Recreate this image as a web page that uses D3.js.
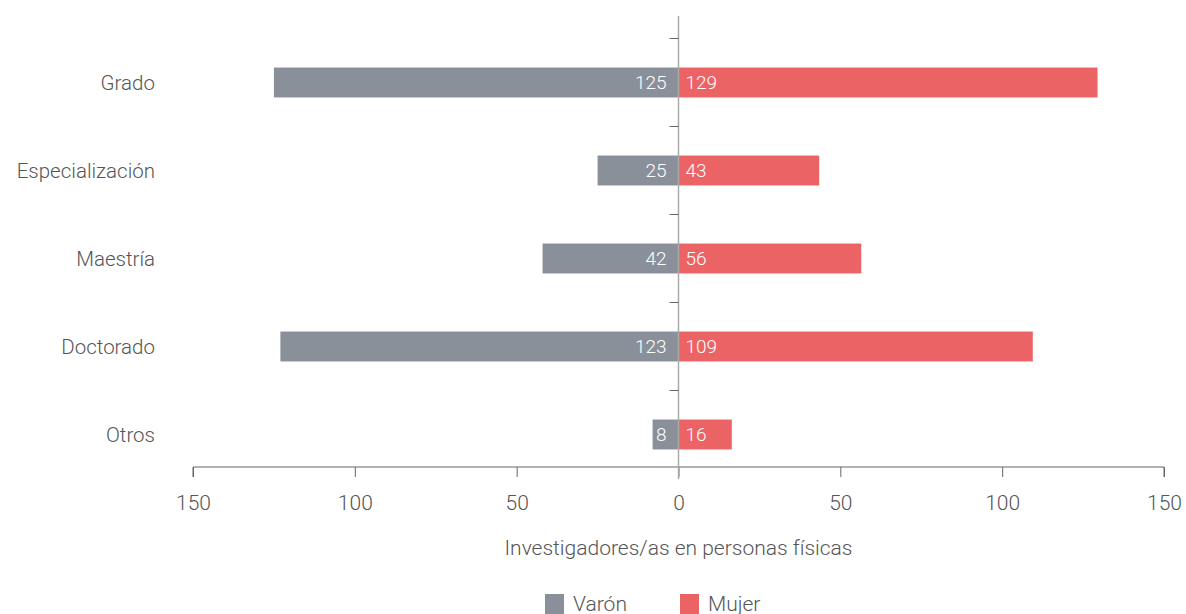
<!doctype html>
<html>
<head>
<meta charset="utf-8">
<title>Investigadores/as por titulación</title>
<script src="https://cdn.jsdelivr.net/npm/d3@7"></script>
<style>
  body { margin: 0; background: #fff; }
  text { font-family: Roboto, "DejaVu Sans", sans-serif; font-weight: 300; }
</style>
</head>
<body>
<div id="chart-area"></div>
<script>
// data
var categories = ["Grado", "Especialización", "Maestría", "Doctorado", "Otros"];
var varon = [125, 25, 42, 123, 8];
var mujer = [129, 43, 56, 109, 16];
var xTicks = [-150, -100, -50, 0, 50, 100, 150];
var seriesNames = ["Varón", "Mujer"];
var seriesColors = ["#89909a", "#eb6365"];

var width = 1186, height = 614;

var svg = d3.select("#chart-area").append("svg")
    .attr("width", width).attr("height", height);

var x = d3.scaleLinear().domain([-150, 150]).range([193, 1164]);
var y = d3.scaleBand().domain(categories).range([38.5, 478.5]).paddingInner(0.66).paddingOuter(0.33);

var rows = categories.map(function(c, i){ return { cat: c, v: varon[i], m: mujer[i] }; });

// bars
var g = svg.append("g");
g.selectAll("rect.varon").data(rows).enter().append("rect")
    .attr("class", "varon")
    .attr("x", function(d){ return x(-d.v); })
    .attr("y", function(d){ return y(d.cat); })
    .attr("width", function(d){ return x(0) - x(-d.v); })
    .attr("height", y.bandwidth())
    .attr("fill", seriesColors[0]);

g.selectAll("rect.mujer").data(rows).enter().append("rect")
    .attr("class", "mujer")
    .attr("x", x(0))
    .attr("y", function(d){ return y(d.cat); })
    .attr("width", function(d){ return x(d.m) - x(0) + 1.5; })
    .attr("height", y.bandwidth())
    .attr("fill", seriesColors[1]);

// value labels
g.selectAll("text.vl").data(rows).enter().append("text")
    .attr("x", x(0) - 12)
    .attr("y", function(d){ return y(d.cat) + y.bandwidth() / 2; })
    .attr("dy", "0.35em")
    .attr("text-anchor", "end")
    .attr("fill", "#fff")
    .style("font-size", "19px")
    .text(function(d){ return d.v; });

g.selectAll("text.ml").data(rows).enter().append("text")
    .attr("x", x(0) + 7)
    .attr("y", function(d){ return y(d.cat) + y.bandwidth() / 2; })
    .attr("dy", "0.35em")
    .attr("fill", "#fff")
    .style("font-size", "19px")
    .text(function(d){ return d.m; });

// x axis
var xAxis = svg.append("g").attr("transform", "translate(0,467)")
    .call(d3.axisBottom(x).tickValues(xTicks).tickSize(10).tickPadding(18)
        .tickFormat(function(d){ return Math.abs(d); }));
xAxis.select(".domain").attr("stroke", "#666").attr("d", "M193,10V0H1164V10");
xAxis.selectAll(".tick line").attr("stroke", "#666");
xAxis.selectAll(".tick text").attr("fill", "#555").style("font-size", "21px");

// y axis (centre line)
svg.append("line")
    .attr("x1", x(0)).attr("x2", x(0)).attr("y1", 16).attr("y2", 479)
    .attr("stroke", "#aaa").attr("stroke-width", 1.5);
var bounds = d3.range(categories.length).map(function(i){ return y(categories[i]) - y.step() * y.paddingInner() / 2; });
svg.selectAll("line.yt").data(bounds).enter().append("line")
    .attr("x1", x(0) - 9).attr("x2", x(0))
    .attr("y1", function(d){ return d; }).attr("y2", function(d){ return d; })
    .attr("stroke", "#666");

// category labels
svg.selectAll("text.cat").data(categories).enter().append("text")
    .attr("x", 155)
    .attr("y", function(d){ return y(d) + y.bandwidth() / 2; })
    .attr("dy", "0.35em")
    .attr("text-anchor", "end")
    .attr("fill", "#555")
    .style("font-size", "20.5px")
    .text(function(d){ return d; });

// axis title
svg.append("text").attr("x", x(0)).attr("y", 548)
    .attr("dy", "0.35em")
    .attr("text-anchor", "middle").attr("fill", "#555").style("font-size", "21px")
    .text("Investigadores/as en personas físicas");

// legend
var legX = [545, 680];
seriesNames.forEach(function(name, i){
    var lg = svg.append("g").attr("transform", "translate(" + legX[i] + ",594)");
    lg.append("rect").attr("width", 19).attr("height", 20).attr("fill", seriesColors[i]);
    lg.append("text").attr("x", 28).attr("y", 10).attr("dy", "0.35em")
        .attr("fill", "#555").style("font-size", "21px").text(name);
});
</script>
</body>
</html>
